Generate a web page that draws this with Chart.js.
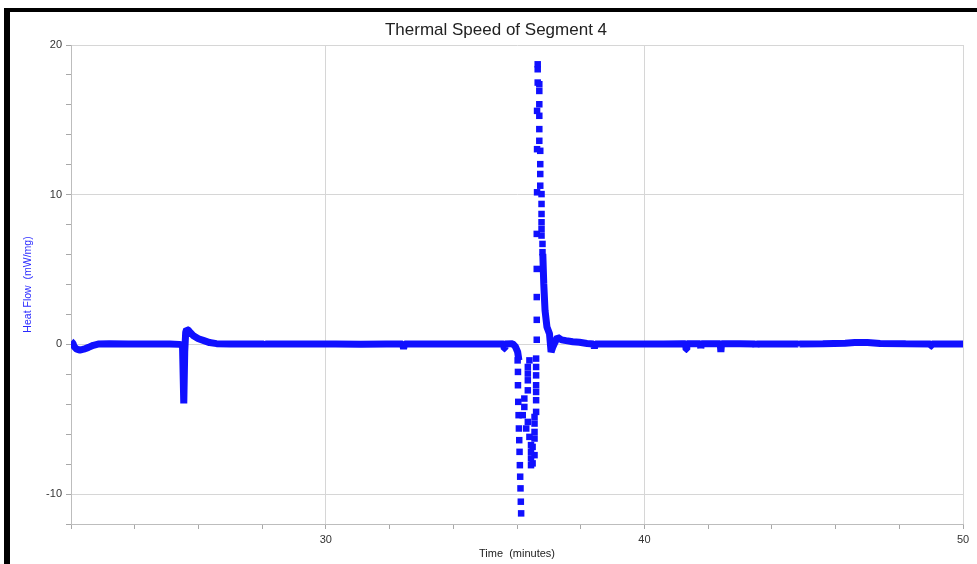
<!DOCTYPE html>
<html>
<head>
<meta charset="utf-8">
<title>Thermal Speed of Segment 4</title>
<script src="https://cdn.jsdelivr.net/npm/chart.js@4.4.1/dist/chart.umd.min.js"></script>
<style>
    html, body { margin: 0; padding: 0; background: #fff; }
    #wrap { position: relative; width: 977px; height: 564px; overflow: hidden; }
    #main-chart { position: absolute; left: 0; top: 0; }
    .frame { position: absolute; background: #000; }
    #frame-top { left: 4px; top: 8px; width: 973px; height: 4px; }
    #frame-left { left: 4px; top: 8px; width: 6px; height: 556px; }
</style>
</head>
<body>
<div id="wrap">
    <canvas id="main-chart" width="977" height="564"></canvas>
    <div class="frame" id="frame-top"></div>
    <div class="frame" id="frame-left"></div>
</div>
<script>
// --- data (time in minutes, heat flow in mW/mg) ---

// continuous trace before the big dip
const traceATime = [22.0, 22.06, 22.1, 22.18, 22.28, 22.4, 22.55, 22.7, 22.85, 23.2,
    23.8, 24.5, 25.1, 25.4, 25.5, 25.54, 25.57, 25.6, 25.63, 25.68,
    25.75, 25.83, 26.0, 26.15, 26.35, 26.57, 27.0, 27.6, 28.05, 28.08,
    28.11, 28.7, 29.5, 30.3, 31.1, 31.9, 32.41, 32.44, 32.47, 33.2,
    34.0, 34.8, 35.4, 35.58, 35.6, 35.62, 35.86, 35.95, 36.02, 36.06];
const traceAFlow = [0.2, 0.08, -0.15, -0.32, -0.38, -0.32, -0.2, -0.06, 0.02, 0.04,
    0.03, 0.02, 0.02, 0.0, -0.05, -3.95, -0.5, 0.8, 1.0, 0.95,
    0.78, 0.6, 0.38, 0.27, 0.12, 0.05, 0.03, 0.02, 0.02, -0.12,
    0.02, 0.03, 0.02, 0.02, 0.01, 0.02, 0.02, -0.3, 0.02, 0.03,
    0.02, 0.02, 0.03, 0.02, -0.29, 0.02, 0.05, -0.15, -0.5, -1.07];

// continuous trace after the big peak
const traceBTime = [36.81, 36.84, 36.88, 36.94, 37.02, 37.07, 37.12, 37.17, 37.27, 37.4,
    37.54, 37.75, 37.96, 38.2, 38.4, 38.43, 38.46, 38.8, 39.4, 40.0,
    40.6, 41.2, 41.29, 41.31, 41.33, 41.75, 41.77, 41.79, 42.38, 42.4,
    42.42, 43.0, 43.48, 43.5, 43.52, 44.2, 44.83, 44.85, 44.87, 45.6,
    46.3, 46.6, 47.0, 47.4, 48.2, 48.98, 49.0, 49.02, 49.5, 50.0];
const traceBFlow = [6.04, 4.04, 2.27, 1.16, 0.71, -0.51, -0.2, 0.04, 0.47, 0.3,
    0.25, 0.18, 0.14, 0.06, 0.02, -0.25, 0.02, 0.03, 0.02, 0.02,
    0.03, 0.04, 0.04, -0.35, 0.04, 0.04, -0.25, 0.04, 0.04, -0.5,
    0.04, 0.04, 0.03, -0.17, 0.03, 0.03, 0.03, -0.1, 0.03, 0.04,
    0.08, 0.12, 0.12, 0.06, 0.04, 0.03, -0.12, 0.03, 0.03, 0.03];

// sparse samples on the way down (two columns)
const dipTime = [36.02, 36.03, 36.03, 36.04, 36.05, 36.06, 36.07, 36.08, 36.09, 36.10, 36.11, 36.12, 36.13,
    36.39, 36.34, 36.34, 36.34, 36.34, 36.23, 36.23, 36.18, 36.34, 36.29, 36.39, 36.44, 36.44, 36.44, 36.44];
const dipFlow = [-1.07, -1.84, -2.73, -3.84, -4.73, -5.62, -6.40, -7.18, -8.07, -8.84, -9.62, -10.51, -11.29,
    -1.07, -1.51, -1.95, -2.40, -3.07, -3.62, -4.18, -4.73, -5.18, -5.62, -6.18, -6.73, -7.18, -7.62, -8.07];

// sparse samples on the way up to the peak
const peakTime = [36.63, 36.62, 36.62, 36.62, 36.62, 36.62, 36.60, 36.60, 36.60, 36.60,
    36.60, 36.60, 36.60, 36.55, 36.55, 36.55, 36.55, 36.49, 36.55, 36.49,
    36.65, 36.65, 36.65, 36.70, 36.70, 36.70, 36.63, 36.70, 36.70, 36.70,
    36.63, 36.73, 36.73, 36.73, 36.73, 36.77, 36.77, 36.77, 36.77, 36.77,
    36.77, 36.80, 36.80];
const peakFlow = [10.16, 7.38, 5.04, 3.16, 1.64, 0.31, -0.95, -1.51, -2.07, -2.73,
    -3.18, -3.73, -4.51, -4.85, -5.29, -5.85, -6.29, -6.85, -7.40, -7.95,
    18.71, 18.38, 17.49, 17.38, 16.93, 16.04, 15.60, 15.27, 14.38, 13.60,
    13.04, 12.93, 12.04, 11.38, 10.60, 10.04, 9.38, 8.71, 8.16, 7.71,
    7.27, 6.71, 6.16];

// axis ranges and labelled ticks
const timeRange = [22, 50];
const flowRange = [-12, 20];
const timeLabels = [30, 40, 50];
const flowLabels = [-10, 0, 10, 20];

// --- chart ---
const BLUE = '#1010ff';
const FONT = '"Liberation Sans", Arial, sans-serif';

const toPoints = (xs, ys) => xs.map((x, i) => ({ x: x, y: ys[i] }));

// title drawn at a fixed spot like the original export
const titlePlugin = {
    id: 'fixedTitle',
    afterDraw(chart) {
        const ctx = chart.ctx;
        ctx.save();
        ctx.font = '17px ' + FONT;
        ctx.fillStyle = '#222';
        ctx.textAlign = 'center';
        ctx.textBaseline = 'middle';
        ctx.fillText('Thermal Speed of Segment 4', 496, 30);
        ctx.restore();
    }
};

const lineSet = (data) => ({
    data: data, showLine: true, borderColor: BLUE, backgroundColor: BLUE,
    borderWidth: 7, borderJoinStyle: 'bevel', pointRadius: 0, pointHoverRadius: 0
});
const dotSet = (data) => ({
    data: data, showLine: false, borderColor: BLUE, backgroundColor: BLUE,
    pointStyle: 'rect', pointRadius: 4.6, borderWidth: 0
});

new Chart(document.getElementById('main-chart'), {
    type: 'scatter',
    data: {
        datasets: [
            lineSet(toPoints(traceATime, traceAFlow)),
            lineSet(toPoints(traceBTime, traceBFlow)),
            dotSet(toPoints(dipTime, dipFlow)),
            dotSet(toPoints(peakTime, peakFlow))
        ]
    },
    options: {
        responsive: false,
        animation: false,
        devicePixelRatio: 1,
        layout: { padding: { top: 45, right: 14, left: 0, bottom: 0 } },
        plugins: { legend: { display: false }, title: { display: false }, tooltip: { enabled: false } },
        scales: {
            x: {
                type: 'linear', min: timeRange[0], max: timeRange[1],
                afterFit: (s) => { s.height = 40; },
                border: { color: '#bdbdbd' },
                grid: {
                    color: (c) => timeLabels.includes(c.tick.value) ? '#d6d6d6' : 'rgba(0,0,0,0)',
                    tickColor: '#a8a8a8', tickLength: 5
                },
                ticks: {
                    stepSize: 2, autoSkip: false, maxRotation: 0, padding: 4,
                    color: '#333', font: { family: FONT, size: 11 },
                    callback: (v) => timeLabels.includes(v) ? String(v) : ''
                },
                title: {
                    display: true, text: 'Time  (minutes)', color: '#222',
                    font: { family: FONT, size: 11 }, padding: { top: 0, bottom: 3 }
                }
            },
            y: {
                type: 'linear', min: flowRange[0], max: flowRange[1],
                afterFit: (s) => { s.width = 71; },
                border: { color: '#bdbdbd' },
                grid: {
                    color: (c) => flowLabels.includes(c.tick.value) ? '#d6d6d6' : 'rgba(0,0,0,0)',
                    tickColor: '#a8a8a8', tickLength: 5
                },
                ticks: {
                    stepSize: 2, autoSkip: false, padding: 4,
                    color: '#333', font: { family: FONT, size: 11 },
                    callback: (v) => flowLabels.includes(v) ? String(v) : ''
                },
                title: {
                    display: true, text: 'Heat Flow  (mW/mg)', color: '#2a2aff',
                    font: { family: FONT, size: 10.5 }, padding: { top: 22, bottom: 0 }
                }
            }
        }
    },
    plugins: [titlePlugin]
});
</script>
</body>
</html>
